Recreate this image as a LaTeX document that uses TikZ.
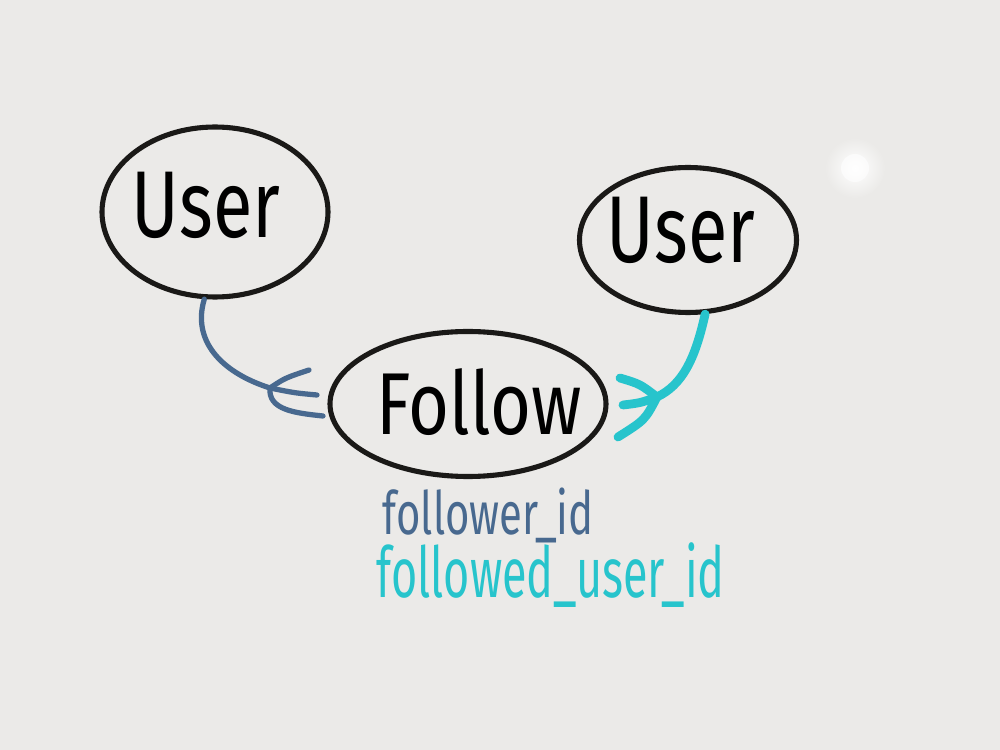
\documentclass[tikz,border=0pt]{standalone}
\usepackage{fontspec}
\usepackage{graphicx}
\setmainfont{Fira Sans}
\usetikzlibrary{shapes.geometric}
\definecolor{board}{HTML}{EBEAE8}
\definecolor{ink}{HTML}{1A1917}
\definecolor{blueink}{HTML}{48698F}
\definecolor{cyanink}{HTML}{27C4CC}
\tikzset{
  entity/.style={ellipse, draw=ink, line width=1.45pt, inner sep=0pt},
  bluelink/.style={draw=blueink, line width=1.5pt, line cap=round},
  cyanlink/.style={draw=cyanink, line width=2.5pt, line cap=round},
  lbl/.style={inner sep=0pt, anchor=base west}
}
\begin{document}
\begin{tikzpicture}[x=0.1mm,y=-0.1mm]
\fill[board] (0,0) rectangle (1000,750);
\useasboundingbox (0,0) rectangle (1000,750);
\shade[inner color=white, outer color=board] (855,168) circle (30);
\fill[white, opacity=0.6] (855,168) circle (14);
% entities
\node[entity, minimum width=22.6mm, minimum height=17mm] (uL) at (215,212) {};
\node[font=\fontsize{27}{30}\selectfont] (tL) at (206,205) {\scalebox{0.76}[1]{User}};
\node[entity, minimum width=21.7mm, minimum height=14.5mm] (uR) at (688,240) {};
\node[font=\fontsize{27}{30}\selectfont] (tR) at (681,230) {\scalebox{0.76}[1]{User}};
\node[entity, minimum width=27.6mm, minimum height=14.5mm] (fo) at (468,404) {};
\node[font=\fontsize{25}{28}\selectfont] (tF) at (479,402) {\scalebox{0.8}[1]{Follow}};
% left connector (many side at Follow)
\coordinate (jL) at (270,388);
\coordinate (pL1) at (309,370);
\coordinate (pL2) at (317,395);
\coordinate (pL3) at (323,416);
\path[bluelink] (uL.263) .. controls (192,340) and (220,372) .. (jL);
\path[bluelink] (jL) .. controls (285,378) .. (pL1);
\path[bluelink] (jL) .. controls (295,393) .. (pL2);
\path[bluelink] (jL) .. controls (268,410) and (295,413) .. (pL3);
% right connector
\coordinate (jR) at (657,397);
\coordinate (pR1) at (620,378);
\coordinate (pR2) at (623,405);
\coordinate (pR3) at (618,437);
\path[cyanlink] (uR.283) .. controls (695,360) and (682,385) .. (jR);
\path[cyanlink] (jR) .. controls (640,384) .. (pR1);
\path[cyanlink] (jR) .. controls (640,403) .. (pR2);
\path[cyanlink] (jR) .. controls (645,420) .. (pR3);
% attribute labels
\node[lbl, text=blueink, font=\fontsize{17}{20}\selectfont] (a1) at (382,535) {\scalebox{0.7}[1]{follower\_id}};
\node[lbl, text=cyanink, font=\fontsize{20}{24}\selectfont] (a2) at (376,598) {\scalebox{0.64}[1]{followed\_user\_id}};
\end{tikzpicture}
\end{document}
